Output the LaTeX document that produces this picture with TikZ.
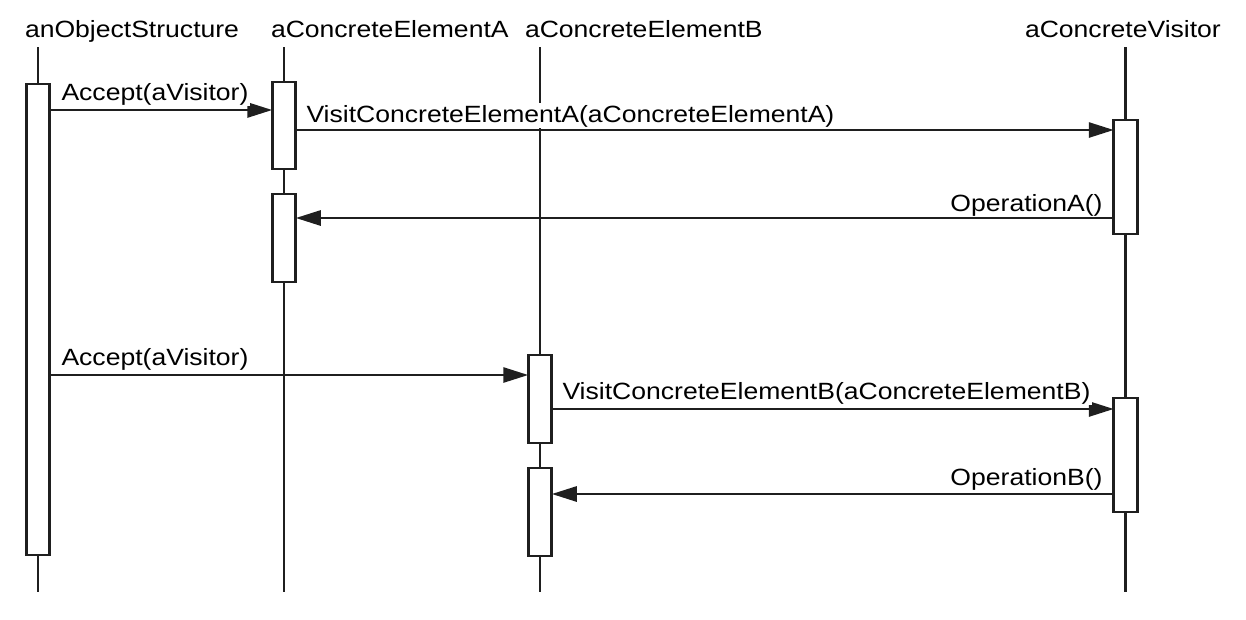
\documentclass[tikz,border=0pt]{standalone}
\usepackage{fontspec}
\setmainfont{Liberation Sans}[FakeStretch=1.13]
\usetikzlibrary{arrows.meta}
\begin{document}
\begin{tikzpicture}[x=1pt,y=-1pt,
  every node/.style={inner sep=0pt,outer sep=0pt},
  lbl/.style={font=\fontsize{23.5}{28}\selectfont},
  mlbl/.style={lbl,fill=white,inner sep=1.5pt},
  life/.style={line width=2.8pt,draw=black!88},
  act/.style={draw=black!88,fill=white,line width=2.8pt,minimum width=23.5pt},
  msg/.style={line width=2.8pt,draw=black!88,-{Triangle[length=25pt,width=15pt]}}]
\useasboundingbox (0,0) rectangle (1246,619);
% headers
\node[lbl,anchor=base west] (hO) at (25,37) {anObjectStructure};
\node[lbl,anchor=base west] (hA) at (271,37) {aConcreteElementA};
\node[lbl,anchor=base west] (hB) at (525,37) {aConcreteElementB};
\node[lbl,anchor=base west] (hV) at (1025,37) {aConcreteVisitor};
% lifelines
\coordinate (tO) at (38,47); \coordinate (bO) at (38,592);
\coordinate (tA) at (284,47); \coordinate (bA) at (284,592);
\coordinate (tB) at (540,47); \coordinate (bB) at (540,592);
\coordinate (tV) at (1125.5,47); \coordinate (bV) at (1125.5,592);
\draw[life] (tO) -- (bO);
\draw[life] (tA) -- (bA);
\draw[life] (tB) -- (bB);
\draw[life] (tV) -- (bV);
% activations
\node[act,minimum height=471pt] (o1) at (38,319.5) {};
\node[act,minimum height=87pt] (a1) at (284,125.5) {};
\node[act,minimum height=88pt] (a2) at (284,238) {};
\node[act,minimum height=114pt] (v1) at (1125.5,177) {};
\node[act,minimum height=88pt] (b1) at (540,399) {};
\node[act,minimum height=88pt] (b2) at (540,512) {};
\node[act,minimum height=114pt] (v2) at (1125.5,455) {};
% messages
\draw[msg] (o1.east |- 0,110) -- (a1.west |- 0,110);
\node[mlbl,anchor=base west] (m1) at (60,100) {Accept(aVisitor)};
\draw[msg] (a1.east |- 0,130) -- (v1.west |- 0,130);
\node[mlbl,anchor=base west] (m2) at (305,122) {VisitConcreteElementA(aConcreteElementA)};
\draw[msg] (v1.west |- 0,218) -- (a2.east |- 0,218);
\node[mlbl,anchor=base east] (m3) at (1104,211) {OperationA()};
\draw[msg] (o1.east |- 0,375) -- (b1.west |- 0,375);
\node[mlbl,anchor=base west] (m4) at (60,365) {Accept(aVisitor)};
\draw[msg] (b1.east |- 0,409) -- (v2.west |- 0,409);
\node[mlbl,anchor=base west] (m5) at (561,399) {VisitConcreteElementB(aConcreteElementB)};
\draw[msg] (v2.west |- 0,494) -- (b2.east |- 0,494);
\node[mlbl,anchor=base east] (m6) at (1104,485) {OperationB()};
\end{tikzpicture}
\end{document}
